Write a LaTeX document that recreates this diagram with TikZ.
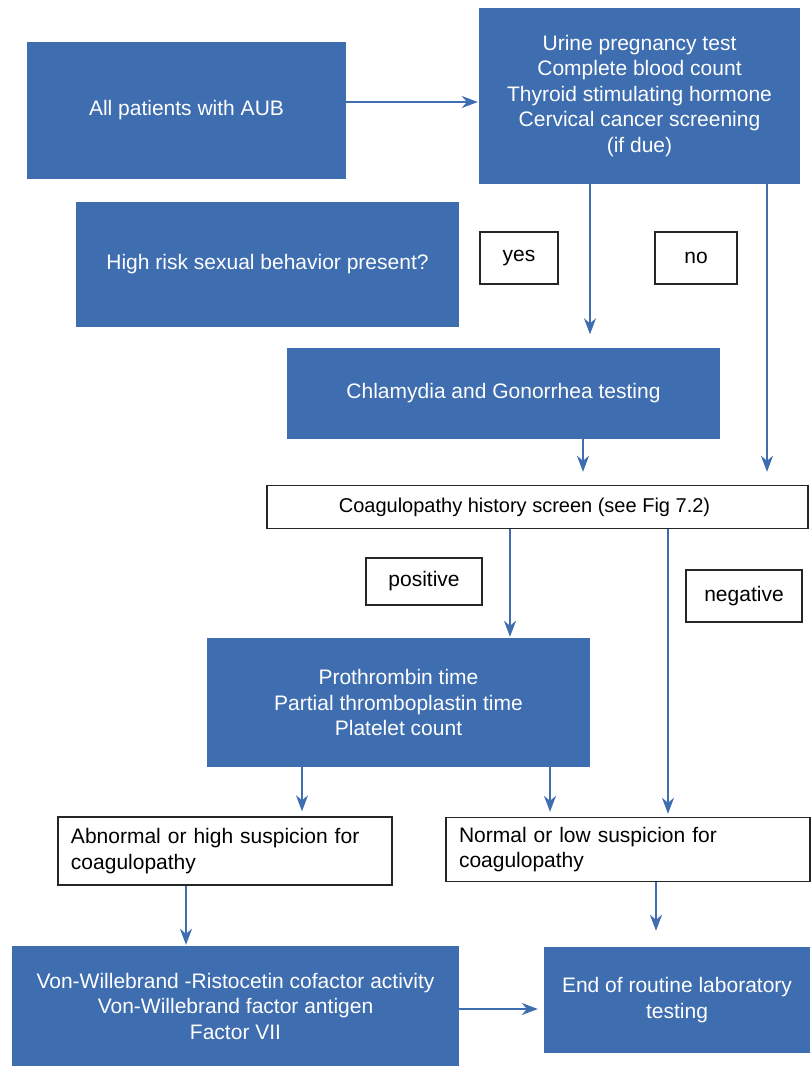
\documentclass[tikz,border=0pt]{standalone}
\usepackage{fontspec}
\setmainfont{Liberation Sans}
\usetikzlibrary{arrows.meta}
\definecolor{boxblue}{RGB}{62,109,176}
\begin{document}
\begin{tikzpicture}[x=1bp,y=-1bp,
  every node/.style={font=\fontsize{21bp}{25.5bp}\selectfont, align=center, inner sep=0pt},
  bluebox/.style={fill=boxblue, text=white},
  whitebox/.style={draw=black!85, line width=1.4bp, fill=white, text=black},
  arr/.style={draw=boxblue, line width=1.6bp, -{Stealth[length=16bp,width=12bp,inset=5bp]}}]
\useasboundingbox (0,0) rectangle (811,1066);

% blue step boxes
\node[bluebox, minimum width=319bp, minimum height=137bp] (aub) at (186.5,110.5) {All patients with AUB};
\node[bluebox, minimum width=321bp, minimum height=176bp] (tests) at (639.5,96)
  {Urine pregnancy test\\Complete blood count\\Thyroid stimulating hormone\\Cervical cancer screening\\(if due)};
\node[bluebox, minimum width=383bp, minimum height=125bp] (risk) at (267.5,264.5) {High risk sexual behavior present?};
\node[bluebox, minimum width=433bp, minimum height=91bp] (chl) at (503.5,393) {Chlamydia and Gonorrhea testing};
\node[bluebox, minimum width=383bp, minimum height=129bp] (pt) at (398.5,702.5)
  {Prothrombin time\\Partial thromboplastin time\\Platelet count};
\node[bluebox, minimum width=446bp, minimum height=120bp] (vwb) at (235.5,1006)
  {Von-Willebrand -Ristocetin cofactor activity\\Von-Willebrand factor antigen\\Factor VII};
\node[bluebox, minimum width=266bp, minimum height=106bp] (end) at (677,1000)
  {End of routine laboratory\\testing};

% white answer and decision boxes
\node[whitebox, minimum width=78bp, minimum height=52bp] (yes) at (519,258) {yes};
\node[whitebox, minimum width=82bp, minimum height=52bp] (no) at (696,258) {no};
\node[whitebox, minimum width=541bp, minimum height=43bp, font=\fontsize{20bp}{24bp}\selectfont] (coag) at (537.5,507)
  {Coagulopathy history screen (see Fig 7.2)\hspace*{26bp}};
\node[whitebox, minimum width=116bp, minimum height=47bp] (pos) at (424,581.5) {positive};
\node[whitebox, minimum width=116bp, minimum height=52bp] (neg) at (744,596) {negative};
\node[whitebox, align=left, text width=308bp, inner xsep=13bp, minimum height=68bp] (abn) at (225,851)
  {Abnormal or high suspicion for\\coagulopathy};
\node[whitebox, align=left, text width=338bp, inner xsep=13bp, minimum height=64bp] (norm) at (628,849.5)
  {Normal or low suspicion for\\coagulopathy};

% lanes of the connectors
\coordinate (ya) at (0,102);
\coordinate (xa) at (590,0);
\coordinate (xb) at (767,0);
\coordinate (xc) at (583,0);
\coordinate (xd) at (510,0);
\coordinate (xe) at (668,0);
\coordinate (xf) at (302,0);
\coordinate (xg) at (550,0);
\coordinate (xh) at (186,0);
\coordinate (xi) at (656,0);
\coordinate (yb) at (0,1009);

\draw[arr, shorten >=1bp] (aub.east |- ya) -- (tests.west |- ya);
\draw[arr, shorten >=13bp] (tests.south -| xa) -- (chl.north -| xa);
\draw[arr, shorten >=13bp] (tests.south -| xb) -- (coag.north -| xb);
\draw[arr, shorten >=13bp] (chl.south -| xc) -- (coag.north -| xc);
\draw[arr, shorten >=1bp] (coag.south -| xd) -- (pt.north -| xd);
\draw[arr, shorten >=3bp] (coag.south -| xe) -- (norm.north -| xe);
\draw[arr, shorten >=5bp] (pt.south -| xf) -- (abn.north -| xf);
\draw[arr, shorten >=5bp] (pt.south -| xg) -- (norm.north -| xg);
\draw[arr, shorten >=1bp] (abn.south -| xh) -- (vwb.north -| xh);
\draw[arr, shorten >=16bp] (norm.south -| xi) -- (end.north -| xi);
\draw[arr, shorten >=6bp] (vwb.east |- yb) -- (end.west |- yb);
\end{tikzpicture}
\end{document}
